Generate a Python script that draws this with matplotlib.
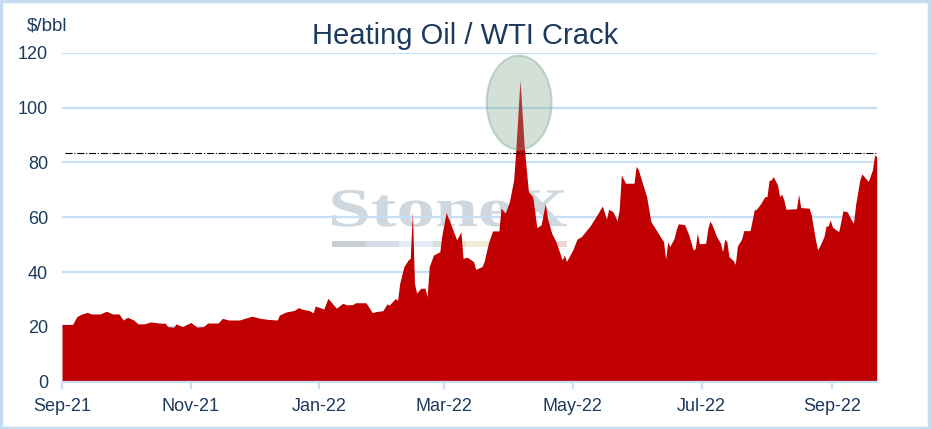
import numpy as np
import matplotlib
matplotlib.use("Agg")
import matplotlib.pyplot as plt
import matplotlib.dates as mdates
from matplotlib.patches import Ellipse, Rectangle, PathPatch
from matplotlib.textpath import TextPath
from matplotlib.font_manager import FontProperties
from matplotlib.transforms import Affine2D
from datetime import datetime

# heating oil / wti crack, $/bbl
dates = [
    "2021-09-01", "2021-09-06", "2021-09-08", "2021-09-10", "2021-09-13", "2021-09-15", "2021-09-19", "2021-09-22", "2021-09-25", "2021-09-28", "2021-09-30",
    "2021-10-02", "2021-10-05", "2021-10-07", "2021-10-10", "2021-10-13", "2021-10-17", "2021-10-20", "2021-10-21", "2021-10-24", "2021-10-25", "2021-10-28",
    "2021-11-01", "2021-11-04", "2021-11-07", "2021-11-09", "2021-11-14", "2021-11-16", "2021-11-19", "2021-11-24", "2021-11-30",
    "2021-12-04", "2021-12-08", "2021-12-12", "2021-12-13", "2021-12-16", "2021-12-20", "2021-12-22", "2021-12-24", "2021-12-27", "2021-12-29", "2021-12-30",
    "2022-01-01", "2022-01-03", "2022-01-05", "2022-01-09", "2022-01-12", "2022-01-14", "2022-01-17", "2022-01-18", "2022-01-23", "2022-01-26", "2022-01-28", "2022-01-31",
    "2022-02-02", "2022-02-03", "2022-02-06", "2022-02-07", "2022-02-08", "2022-02-10", "2022-02-12", "2022-02-13", "2022-02-14", "2022-02-15", "2022-02-16", "2022-02-18", "2022-02-20", "2022-02-21", "2022-02-22", "2022-02-24", "2022-02-27", "2022-02-28",
    "2022-03-02", "2022-03-04", "2022-03-07", "2022-03-09", "2022-03-10", "2022-03-12", "2022-03-15", "2022-03-16", "2022-03-19", "2022-03-20", "2022-03-22", "2022-03-24", "2022-03-27", "2022-03-28", "2022-03-30",
    "2022-04-01", "2022-04-03", "2022-04-04", "2022-04-06", "2022-04-08", "2022-04-09", "2022-04-10", "2022-04-12", "2022-04-14", "2022-04-16", "2022-04-18", "2022-04-19", "2022-04-21", "2022-04-23", "2022-04-26", "2022-04-27", "2022-04-28",
    "2022-05-01", "2022-05-03", "2022-05-05", "2022-05-09", "2022-05-11", "2022-05-13", "2022-05-15", "2022-05-17", "2022-05-18", "2022-05-20", "2022-05-22", "2022-05-23", "2022-05-24", "2022-05-26", "2022-05-30", "2022-05-31",
    "2022-06-01", "2022-06-03", "2022-06-05", "2022-06-07", "2022-06-09", "2022-06-11", "2022-06-13", "2022-06-14", "2022-06-15", "2022-06-16", "2022-06-18", "2022-06-19", "2022-06-20", "2022-06-23", "2022-06-25", "2022-06-27", "2022-06-28", "2022-06-29", "2022-06-30",
    "2022-07-03", "2022-07-04", "2022-07-05", "2022-07-06", "2022-07-08", "2022-07-10", "2022-07-11", "2022-07-12", "2022-07-13", "2022-07-14", "2022-07-16", "2022-07-17", "2022-07-18", "2022-07-20", "2022-07-21", "2022-07-24", "2022-07-26", "2022-07-27", "2022-07-29", "2022-07-31",
    "2022-08-01", "2022-08-02", "2022-08-03", "2022-08-04", "2022-08-06", "2022-08-07", "2022-08-08", "2022-08-09", "2022-08-10", "2022-08-15", "2022-08-16", "2022-08-17", "2022-08-21", "2022-08-22", "2022-08-24", "2022-08-25", "2022-08-26", "2022-08-28", "2022-08-29", "2022-08-30", "2022-08-31",
    "2022-09-01", "2022-09-04", "2022-09-05", "2022-09-06", "2022-09-08", "2022-09-10", "2022-09-11", "2022-09-12", "2022-09-14", "2022-09-15", "2022-09-18", "2022-09-20", "2022-09-21", "2022-09-22",
]
crack = [
    20.9, 20.9, 23.7, 24.6, 25.3, 24.7, 24.7, 25.7, 24.7, 24.7, 22.5,
    23.5, 22.5, 21.1, 21.1, 21.8, 21.4, 21.3, 20.1, 19.9, 21.1, 20.1,
    21.6, 19.9, 20.1, 21.4, 21.4, 23.1, 22.5, 22.5, 23.9,
    23.1, 22.7, 22.5, 24.3, 25.4, 26.0, 27.0, 26.4, 26.0, 25.1, 27.6,
    27.1, 26.5, 30.4, 26.8, 28.6, 28.0, 28.2, 28.8, 28.8, 25.2, 25.6, 25.9,
    28.4, 27.9, 30.4, 29.6, 35.9, 42.0, 44.4, 45.0, 62.0, 35.9, 32.3, 34.1, 34.1, 31.0, 42.0, 46.2, 47.4, 53.5,
    61.7, 57.8, 51.7, 54.7, 45.0, 45.4, 43.8, 41.0, 42.0, 43.8, 50.5, 55.0, 55.0, 63.3, 61.5,
    65.7, 73.6, 84.6, 110.1, 85.8, 77.3, 69.3, 67.5, 56.2, 57.2, 65.1, 59.6, 54.2, 51.1, 44.4, 46.2, 43.8,
    48.1, 52.0, 52.9, 56.6, 59.0, 61.5, 64.1, 59.3, 62.9, 62.0, 58.8, 62.7, 75.4, 72.4, 72.4, 78.5,
    77.5, 72.4, 67.5, 58.4, 56.0, 53.5, 51.1, 44.7, 51.1, 49.3, 52.3, 55.4, 57.6, 57.3, 53.5, 48.1, 48.5, 54.2, 50.3,
    50.5, 56.0, 58.6, 57.2, 53.2, 50.5, 47.4, 52.0, 51.1, 45.6, 44.2, 42.8, 49.5, 52.0, 55.1, 55.1, 62.7, 62.9, 64.9, 67.5,
    67.5, 73.4, 73.6, 74.8, 71.8, 67.5, 68.4, 66.3, 62.9, 63.1, 68.4, 63.5, 63.3, 60.8, 51.7, 48.1, 49.5, 52.9, 56.8, 56.8, 59.0,
    56.4, 54.7, 58.4, 62.3, 62.0, 59.0, 57.8, 64.5, 73.6, 75.8, 73.0, 77.3, 82.7, 82.1,
]
latest_level = 83.4
yticks = [0, 20, 40, 60, 80, 100, 120]

navy = "#1b3a5e"
grid_blue = "#c6dff4"

x = np.array([datetime.strptime(d, "%Y-%m-%d") for d in dates])
y = np.array(crack)

fig = plt.figure(figsize=(9.31, 4.29), dpi=100)
ax = fig.add_axes([62 / 931, 1 - 381.7 / 429, (876.7 - 62) / 931, (381.7 - 52.7) / 429])

# watermark (behind everything)
fp = FontProperties(family="Liberation Serif", weight="bold")
tp = TextPath((0, 0), "StoneX", size=1, prop=fp)
ext = tp.get_extents()
sx = 2.35 / ext.width
sy = 0.367 / ext.height
tr = Affine2D().translate(-ext.x0, -ext.y0).scale(sx, sy).translate(3.32, (429 - 226.7) / 100)
ax.add_patch(PathPatch(tp, transform=tr + fig.dpi_scale_trans, facecolor="#cfd7df",
                       edgecolor="none", zorder=0.2, clip_on=False))
bar_cols = ["#c8cfd7", "#d4dce5", "#e3ebf4", "#d5e4d7", "#f3eed6", "#f3eed6", "#f1d4d4"]
seg = 2.35 / len(bar_cols)
for i, c in enumerate(bar_cols):
    ax.add_patch(Rectangle((3.32 + i * seg, (429 - 246.5) / 100), seg, 0.06,
                           transform=fig.dpi_scale_trans, facecolor=c, edgecolor="none",
                           zorder=0.2, clip_on=False))

ax.fill_between(x, 0, y, color="#c00000", linewidth=0, zorder=1)
ax.axhline(latest_level, xmin=0.004, xmax=1, color="black", lw=0.8, ls="-.", zorder=2)

# highlight around the april spike
ctr = mdates.date2num(datetime(2022, 4, 5, 14))
ax.add_patch(Ellipse((ctr, 101.8), 30.8, 34.3, facecolor="#7fa890", alpha=0.35,
                     edgecolor="#6f9c82", lw=1.5, zorder=3))

ax.set_xlim(datetime(2021, 9, 1), datetime(2022, 9, 22))
ax.set_ylim(0, 120)
ax.set_yticks(yticks)
ax.yaxis.grid(True, color=grid_blue, lw=1.6)
ax.set_axisbelow(True)
ax.xaxis.set_major_locator(mdates.MonthLocator(bymonth=[1, 3, 5, 7, 9, 11]))
ax.xaxis.set_major_formatter(mdates.DateFormatter("%b-%y"))

for s in ["left", "right", "top"]:
    ax.spines[s].set_visible(False)
ax.spines["bottom"].set_color(grid_blue)
ax.spines["bottom"].set_linewidth(1.6)
ax.tick_params(axis="y", length=0, pad=10, labelsize=13, labelcolor=navy)
ax.tick_params(axis="x", length=5, width=1.6, color=grid_blue, pad=7, labelsize=13, labelcolor=navy)
for lab in ax.get_xticklabels() + ax.get_yticklabels():
    lab.set_fontfamily("Liberation Sans")

fig.text(0.4995, 1 - 44.5 / 429, "Heating Oil / WTI Crack", ha="center", va="baseline",
         fontsize=21, color=navy, family="Liberation Sans")
fig.text(27 / 931, 1 - 26 / 429, "$/bbl", ha="left", va="center", fontsize=13.5,
         color=navy, family="Liberation Sans")

# light blue frame round the whole picture
fig.patches.append(Rectangle((0.001, 0.002), 0.997, 0.995, transform=fig.transFigure,
                             fill=False, edgecolor="#c6dcf1", lw=2.5))

fig.savefig("out.png", dpi=100)
